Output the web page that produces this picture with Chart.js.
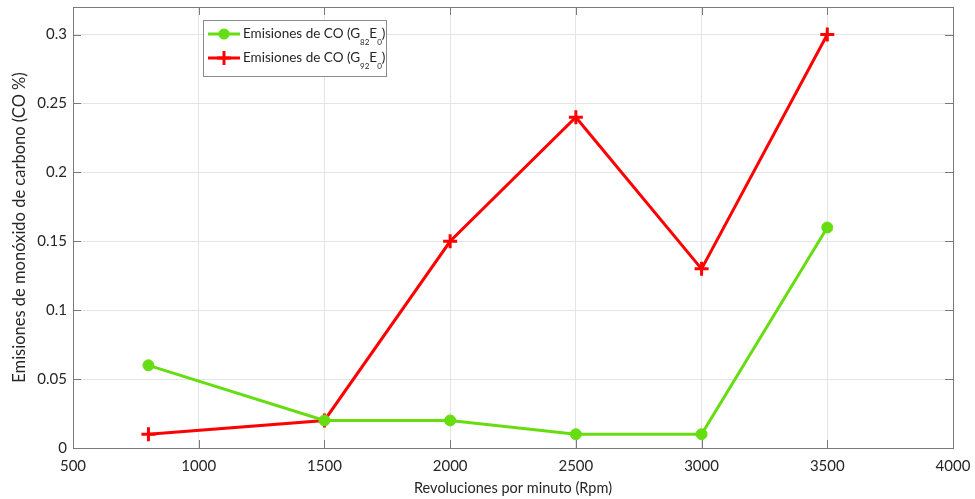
<!DOCTYPE html>
<html>
<head>
<meta charset="utf-8">
<script src="https://cdn.jsdelivr.net/npm/chart.js@4.4.1/dist/chart.umd.min.js"></script>
<style>
  html, body { margin: 0; padding: 0; background: #fff; }
  #c { display: block; }
</style>
</head>
<body>
<canvas id="c" width="975" height="499"></canvas>
<script>
// Engine speed (rpm) and CO emissions (%) for both fuel blends
const rpm = [800, 1500, 2000, 2500, 3000, 3500];
const coG82 = [0.06, 0.02, 0.02, 0.01, 0.01, 0.16];
const coG92 = [0.01, 0.02, 0.15, 0.24, 0.13, 0.30];
const xTicks = [500, 1000, 1500, 2000, 2500, 3000, 3500, 4000];
const yTicks = [0, 0.05, 0.1, 0.15, 0.2, 0.25, 0.3];
const legendItems = [
  { base: 'Emisiones de CO (G', sub1: '82', mid: 'E', sub2: '0', color: '#66dd11', style: 'circle' },
  { base: 'Emisiones de CO (G', sub1: '92', mid: 'E', sub2: '0', color: '#ff0000', style: 'cross' }
];

const FONT = 'Lato, "Open Sans", sans-serif';
const TEXT = '#262626';
const toPoints = ys => rpm.map((x, i) => ({ x, y: ys[i] }));

// Frame, inward ticks and legend with subscripts
const framePlugin = {
  id: 'frame',
  beforeDatasetsDraw(chart) {
    const { ctx, chartArea: a, scales: { x, y } } = chart;
    ctx.save();
    ctx.strokeStyle = '#7a7a7a';
    ctx.lineWidth = 1;
    ctx.beginPath();
    xTicks.forEach(v => {
      const px = Math.round(x.getPixelForValue(v)) + 0.5;
      ctx.moveTo(px, a.bottom); ctx.lineTo(px, a.bottom - 8);
      ctx.moveTo(px, a.top); ctx.lineTo(px, a.top + 8);
    });
    yTicks.forEach(v => {
      const py = Math.round(y.getPixelForValue(v)) + 0.5;
      ctx.moveTo(a.left, py); ctx.lineTo(a.left + 8, py);
      ctx.moveTo(a.right, py); ctx.lineTo(a.right - 8, py);
    });
    ctx.stroke();
    ctx.strokeRect(Math.round(a.left) + 0.5, Math.round(a.top) + 0.5,
      Math.round(a.right - a.left), Math.round(a.bottom - a.top));
    ctx.restore();
  },
  afterDraw(chart) {
    const { ctx } = chart;
    ctx.save();
    const bx = 203.5, by = 20.5, bw = 183, bh = 56;
    ctx.fillStyle = '#fff';
    ctx.fillRect(bx, by, bw, bh);
    ctx.strokeStyle = '#8a8a8a';
    ctx.lineWidth = 1;
    ctx.strokeRect(bx, by, bw, bh);
    legendItems.forEach((it, i) => {
      const cy = 34 + i * 24;
      ctx.strokeStyle = it.color;
      ctx.fillStyle = it.color;
      ctx.lineWidth = 3;
      ctx.beginPath();
      ctx.moveTo(208, cy); ctx.lineTo(240, cy);
      ctx.stroke();
      if (it.style === 'circle') {
        ctx.beginPath(); ctx.arc(224, cy, 5.5, 0, Math.PI * 2); ctx.fill();
      } else {
        ctx.beginPath();
        ctx.moveTo(224, cy - 7); ctx.lineTo(224, cy + 7);
        ctx.moveTo(217, cy); ctx.lineTo(231, cy);
        ctx.stroke();
      }
      ctx.fillStyle = TEXT;
      ctx.textBaseline = 'middle';
      ctx.textAlign = 'left';
      let tx = 243;
      ctx.font = '13.5px ' + FONT;
      ctx.fillText(it.base, tx, cy);
      tx += ctx.measureText(it.base).width;
      ctx.font = '8px ' + FONT;
      ctx.fillText(it.sub1, tx, cy + 8);
      tx += ctx.measureText(it.sub1).width;
      ctx.font = '13.5px ' + FONT;
      ctx.fillText(it.mid, tx, cy);
      tx += ctx.measureText(it.mid).width;
      ctx.font = '8px ' + FONT;
      ctx.fillText(it.sub2, tx, cy + 8);
      tx += ctx.measureText(it.sub2).width;
      ctx.font = '13.5px ' + FONT;
      ctx.fillText(')', tx, cy);
    });
    ctx.restore();
  }
};

new Chart(document.getElementById('c'), {
  type: 'line',
  data: {
    datasets: [
      {
        label: 'Emisiones de CO (G82E0)',
        data: toPoints(coG82),
        borderColor: '#66dd11',
        backgroundColor: '#66dd11',
        borderWidth: 3,
        pointStyle: 'circle',
        pointRadius: 5.5,
        pointBorderWidth: 1,
        tension: 0
      },
      {
        label: 'Emisiones de CO (G92E0)',
        data: toPoints(coG92),
        borderColor: '#ff0000',
        backgroundColor: '#ff0000',
        borderWidth: 3,
        pointStyle: 'cross',
        pointRadius: 7,
        pointBorderWidth: 3,
        tension: 0
      }
    ]
  },
  options: {
    responsive: false,
    animation: false,
    devicePixelRatio: 1,
    layout: { autoPadding: false, padding: { left: 0, top: 7, right: 22, bottom: 0 } },
    plugins: { legend: { display: false }, tooltip: { enabled: false } },
    scales: {
      x: {
        type: 'linear',
        min: 500, max: 4000,
        afterBuildTicks: s => { s.ticks = xTicks.map(v => ({ value: v })); },
        afterFit: s => { s.height = 51; s.paddingLeft = 0; s.paddingRight = 0; },
        grid: { color: '#e4e4e4', drawTicks: false },
        border: { display: false },
        ticks: { color: TEXT, font: { family: FONT, size: 15 }, padding: 9, maxRotation: 0, callback: v => String(v) },
        title: { display: true, text: 'Revoluciones por minuto (Rpm)', color: TEXT, font: { family: FONT, size: 14.5 }, padding: { top: 0, bottom: 2 } }
      },
      y: {
        min: 0, max: 0.32,
        afterBuildTicks: s => { s.ticks = yTicks.map(v => ({ value: v })); },
        afterFit: s => { s.width = 73; s.paddingTop = 0; s.paddingBottom = 0; },
        grid: { color: '#e4e4e4', drawTicks: false },
        border: { display: false },
        ticks: { color: TEXT, font: { family: FONT, size: 15 }, padding: 6, callback: v => String(v) },
        title: { display: true, text: 'Emisiones de monóxido de carbono (CO %)', color: TEXT, font: { family: FONT, size: 16.5 }, padding: { top: 10, bottom: 4 } }
      }
    }
  },
  plugins: [framePlugin]
});
</script>
</body>
</html>
